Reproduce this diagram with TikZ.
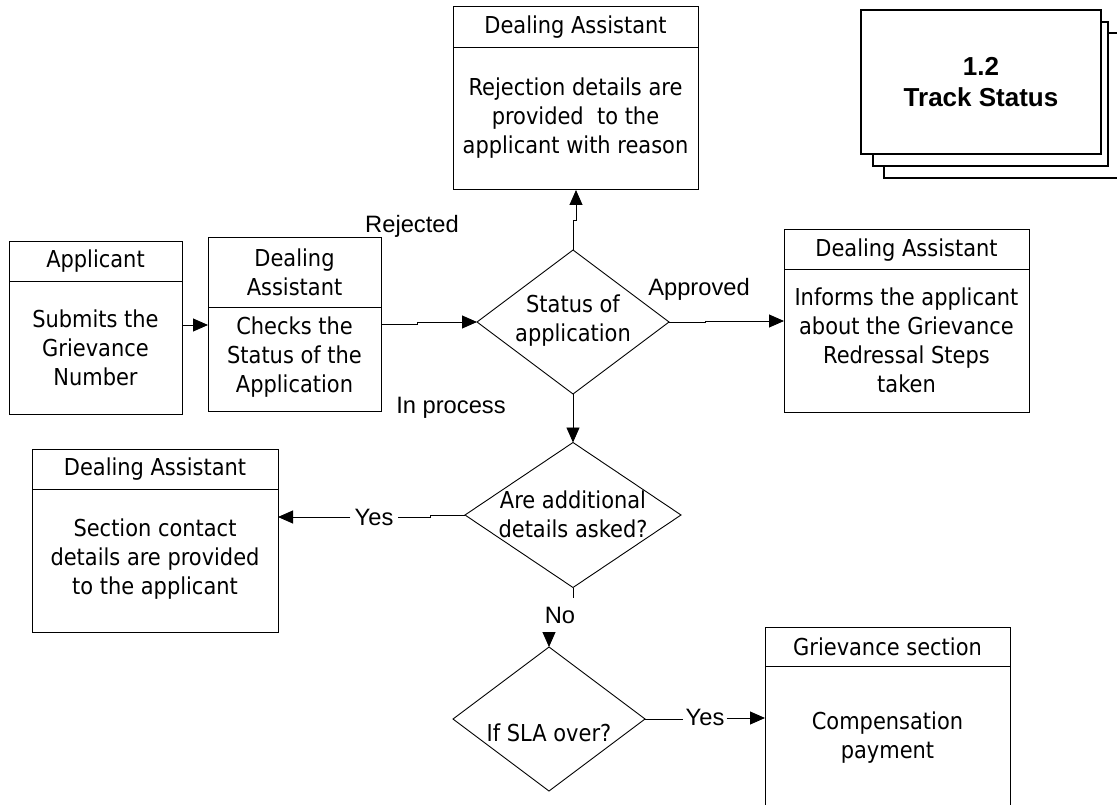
\documentclass[tikz,border=0pt]{standalone}
\usepackage{fontspec}
\setmainfont{DejaVu Sans Condensed}
\newfontfamily\labelfont{Liberation Sans}
\usetikzlibrary{shapes.geometric,arrows.meta}

\begin{document}
\begin{tikzpicture}[x=1pt,y=-1pt,
  box/.style={draw, line width=1pt, rectangle, inner sep=0pt, outer sep=0pt},
  dia/.style={draw, line width=0.9pt, diamond, inner sep=0pt, outer sep=0pt},
  boxtext/.style={align=center, font=\fontsize{23.3}{29}\selectfont, inner sep=0pt},
  lbl/.style={font=\labelfont\fontsize{23.7}{28}\selectfont, inner sep=2pt},
  conn/.style={line width=0.9pt},
  arr/.style={conn, -{Triangle[length=15pt,width=13pt]}},
  stack/.style={draw, line width=1.7pt, fill=white}
]
\useasboundingbox (0,0) rectangle (1117,805);
\clip (0,0) rectangle (1117,805);

% ---------- swimlane-style activity boxes ----------
\node[box, minimum width=173pt, minimum height=172pt] (app) at (95.5,328) {};
\draw[conn] (app.west |- 0,281) -- (app.east |- 0,281);
\node[boxtext] (appH) at (95.5,261.5) {Applicant};
\node[boxtext] (appB) at (95.5,348) {Submits the\\Grievance\\Number};

\node[box, minimum width=173pt, minimum height=173pt] (chk) at (294.5,324.5) {};
\draw[conn] (chk.west |- 0,307) -- (chk.east |- 0,307);
\node[boxtext] (chkH) at (294.5,272) {Dealing\\Assistant};
\node[boxtext] (chkB) at (294.5,357) {Checks the\\Status of the\\Application};

\node[box, minimum width=245pt, minimum height=183pt] (rej) at (575.5,98.5) {};
\draw[conn] (rej.west |- 0,47) -- (rej.east |- 0,47);
\node[boxtext] (rejH) at (575.5,27) {Dealing Assistant};
\node[boxtext] (rejB) at (575.5,118.5) {Rejection details are\\provided\ \ to the\\applicant with reason};

\node[box, minimum width=245pt, minimum height=182pt] (apr) at (906.5,321) {};
\draw[conn] (apr.west |- 0,269) -- (apr.east |- 0,269);
\node[boxtext] (aprH) at (906.5,250) {Dealing Assistant};
\node[boxtext] (aprB) at (906.5,340.5) {Informs the applicant\\about the Grievance\\Redressal Steps\\taken};

\node[box, minimum width=246pt, minimum height=183pt] (sec) at (155,540.5) {};
\draw[conn] (sec.west |- 0,489) -- (sec.east |- 0,489);
\node[boxtext] (secH) at (155,469) {Dealing Assistant};
\node[boxtext] (secB) at (155,559) {Section contact\\details are provided\\to the applicant};

\node[box, minimum width=245pt, minimum height=182pt] (grv) at (887.5,718) {};
\draw[conn] (grv.west |- 0,666) -- (grv.east |- 0,666);
\node[boxtext] (grvH) at (887.5,646.5) {Grievance section};
\node[boxtext] (grvB) at (887.5,737.5) {Compensation\\payment};

% ---------- decisions ----------
\node[dia, minimum width=192pt, minimum height=144pt] (d1) at (573,322) {};
\node[boxtext] (d1T) at (573,321) {Status of\\application};
\node[dia, minimum width=216pt, minimum height=145pt] (d2) at (573,515) {};
\node[boxtext] (d2T) at (573,514) {Are additional\\details asked?};
\node[dia, minimum width=192pt, minimum height=144pt] (d3) at (549,719) {};
\node[boxtext] (d3T) at (549,733) {If SLA over?};

% ---------- process title card ----------
\draw[stack] (884,33) rectangle (1135,178);
\draw[stack] (873,22) rectangle (1108,166);
\node[stack, rectangle, minimum width=240pt, minimum height=144pt, inner sep=0pt] (ts) at (981,82) {};
\node[font=\labelfont\bfseries\fontsize{26}{31}\selectfont, align=center, inner sep=0pt] (tsT) at (981,82) {1.2\\Track Status};

% ---------- connector labels ----------
\node[lbl] (lrej) at (412,226) {Rejected};
\node[lbl] (lapr) at (699,289) {Approved};
\node[lbl] (lproc) at (451,408) {In process};
\node[lbl, inner sep=4pt] (yes1) at (374,517) {Yes};
\node[lbl] (no1) at (560,615) {No};
\node[lbl, inner sep=2pt] (yes2) at (705,717) {Yes};

% ---------- connectors ----------
\draw[arr] (app.east |- 0,325) -- (chk.west |- 0,325);
\draw[arr] (chk.east |- 0,324) -- (417,324) -- (417,322) -- (d1.west);
\draw[arr] (d1.north) -- (573,220) -- (576,220) -- (rej.south -| 576,0);
\draw[arr] (d1.east) -- (705,322) -- (705,321) -- (apr.west |- 0,321);
\draw[arr] (d1.south) -- (d2.north);
\draw[conn] (d2.west) -- (430,515) -- (430,517) -- (yes1.east);
\draw[arr] (yes1.west) -- (sec.east |- 0,517);
\draw[conn] (d2.south) -- ++(0,10);
\draw[arr] ([yshift=-17pt]no1.center -| d3.north) -- (d3.north);
\draw[conn] (d3.east) -- (yes2.west |- d3.east);
\draw[arr] (yes2.east |- 0,718) -- (grv.west);
\end{tikzpicture}
\end{document}
